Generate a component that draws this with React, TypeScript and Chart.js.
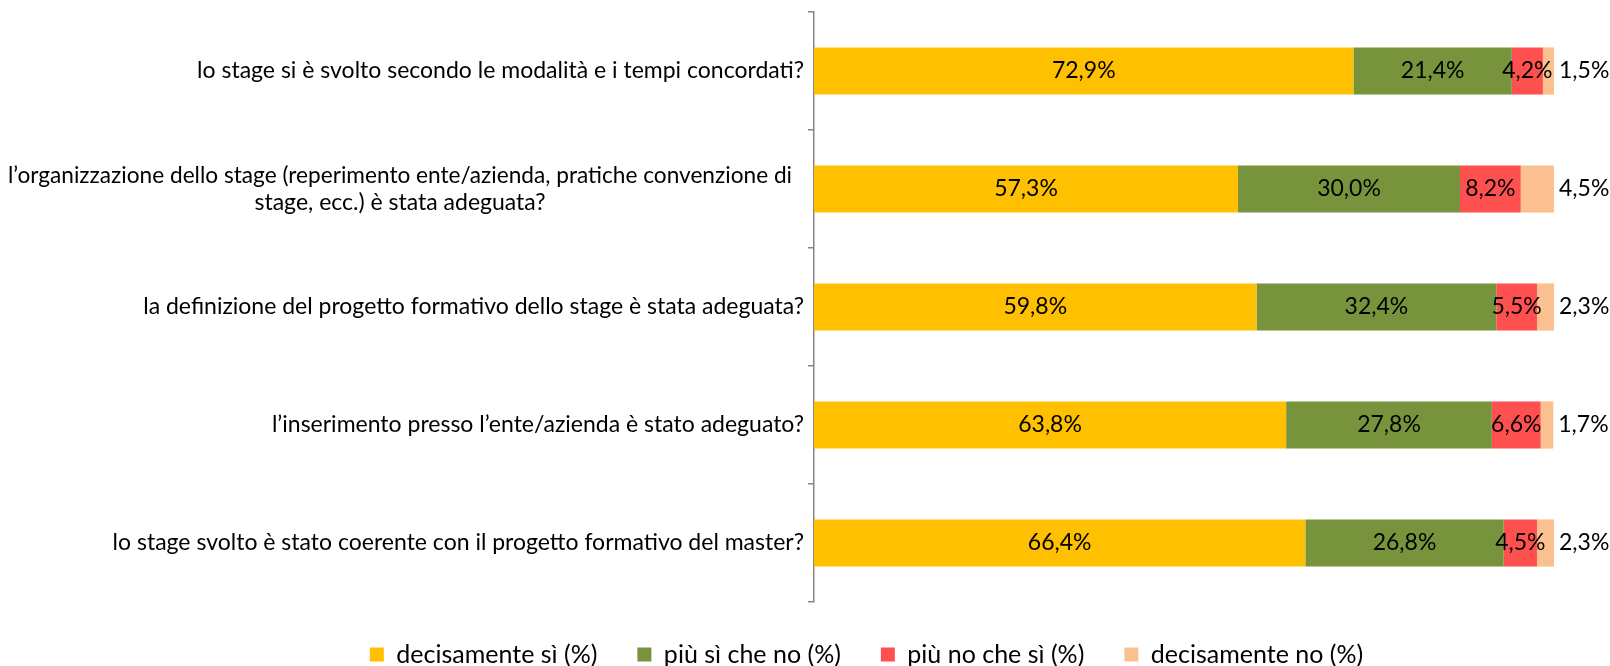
import React, { useEffect, useRef } from "react";
import { Chart, registerables } from "chart.js";

Chart.register(...registerables);

const categories: (string | string[])[] = [
  "lo stage si è svolto secondo le modalità e i tempi concordati?",
  ["l’organizzazione dello stage (reperimento ente/azienda, pratiche convenzione di", "stage, ecc.) è stata adeguata?"],
  "la definizione del progetto formativo dello stage è stata adeguata?",
  "l’inserimento presso l’ente/azienda è stato adeguato?",
  "lo stage svolto è stato coerente con il progetto formativo del master?",
];

const decisamenteSi = [72.9, 57.3, 59.8, 63.8, 66.4];
const piuSiCheNo = [21.4, 30.0, 32.4, 27.8, 26.8];
const piuNoCheSi = [4.2, 8.2, 5.5, 6.6, 4.5];
const decisamenteNo = [1.5, 4.5, 2.3, 1.7, 2.3];

const seriesNames = ["decisamente sì (%)", "più sì che no (%)", "più no che sì (%)", "decisamente no (%)"];
const seriesColors = ["#FFC000", "#77933C", "#FF5050", "#FAC090"];

const FONT = "Lato, Carlito, sans-serif";
const LEFT_PAD = 179;
const AXIS_X = 814;

const fmt = (v: number) => v.toFixed(1).replace(".", ",") + "%";

const labelPlugin = {
  id: "barLabels",
  afterDatasetsDraw(chart: any) {
    const ctx = chart.ctx;
    ctx.save();
    ctx.font = `23px ${FONT}`;
    ctx.fillStyle = "#000";
    ctx.textBaseline = "middle";
    const n = chart.data.datasets.length;
    chart.data.datasets.forEach((ds: any, di: number) => {
      const meta = chart.getDatasetMeta(di);
      meta.data.forEach((bar: any, i: number) => {
        const v = ds.data[i];
        const text = fmt(v);
        if (di === n - 1) {
          ctx.textAlign = "left";
          ctx.fillText(text, bar.x + 5, bar.y);
        } else {
          ctx.textAlign = "center";
          ctx.fillText(text, (bar.x + bar.base) / 2, bar.y);
        }
      });
    });
    ctx.restore();
  },
};

// Category labels: single lines right-aligned against the axis,
// wrapped labels centred as a block (as in the original spreadsheet chart).
const categoryLabelPlugin = {
  id: "categoryLabels",
  afterDraw(chart: any) {
    const ctx = chart.ctx;
    const yScale = chart.scales.y;
    const right = chart.chartArea.left - 10;
    const lineH = 26.6;
    ctx.save();
    ctx.font = `23px ${FONT}`;
    ctx.fillStyle = "#000";
    ctx.textBaseline = "middle";
    chart.data.labels.forEach((lab: any, i: number) => {
      const y = yScale.getPixelForTick(i);
      const lines: string[] = Array.isArray(lab) ? lab : [lab];
      if (lines.length === 1) {
        ctx.textAlign = "right";
        ctx.fillText(lines[0], right, y);
      } else {
        const maxW = 784;
        const blockRight = right - 12;
        const cx = blockRight - maxW / 2;
        ctx.textAlign = "center";
        lines.forEach((l, k) => {
          const ly = y + (k - (lines.length - 1) / 2) * lineH;
          ctx.fillText(l, cx, ly, maxW);
        });
      }
    });
    ctx.restore();
  },
};

export default function App() {
  const ref = useRef<HTMLCanvasElement>(null);
  useEffect(() => {
    if (!ref.current) return;
    const data = [decisamenteSi, piuSiCheNo, piuNoCheSi, decisamenteNo];
    const chart = new Chart(ref.current, {
      type: "bar",
      data: {
        labels: categories,
        datasets: data.map((d, i) => ({
          label: seriesNames[i],
          data: d,
          backgroundColor: seriesColors[i],
          borderWidth: 0,
          barPercentage: 0.4,
          categoryPercentage: 1,
        })),
      },
      options: {
        indexAxis: "y",
        animation: false,
        responsive: false,
        maintainAspectRatio: false,
        layout: { padding: { top: 12, right: 56, left: LEFT_PAD, bottom: -11 } },
        scales: {
          x: {
            stacked: true,
            display: false,
            min: 0,
            max: 100,
          },
          y: {
            stacked: true,
            offset: true,
            grid: { display: true, drawOnChartArea: false, drawTicks: true, offset: true, tickLength: 6, color: "#868686", lineWidth: 1.5 },
            border: { display: true, color: "#868686", width: 1.5 },
            ticks: { display: false },
            afterFit(scale: any) {
              scale.width = AXIS_X - LEFT_PAD;
            },
          },
        },
        plugins: {
          legend: {
            position: "bottom",
            labels: {
              boxWidth: 14,
              boxHeight: 14,
              padding: 40,
              color: "#000",
              font: { family: FONT, size: 25 },
            },
          },
          tooltip: { enabled: false },
        },
      },
      plugins: [labelPlugin, categoryLabelPlugin],
    });
    return () => chart.destroy();
  }, []);
  return (
    <div style={{ position: "fixed", left: 0, top: 0, width: 1610, height: 666, background: "#fff" }}>
      <canvas ref={ref} width={1610} height={666} style={{ width: 1610, height: 666 }} />
    </div>
  );
}
